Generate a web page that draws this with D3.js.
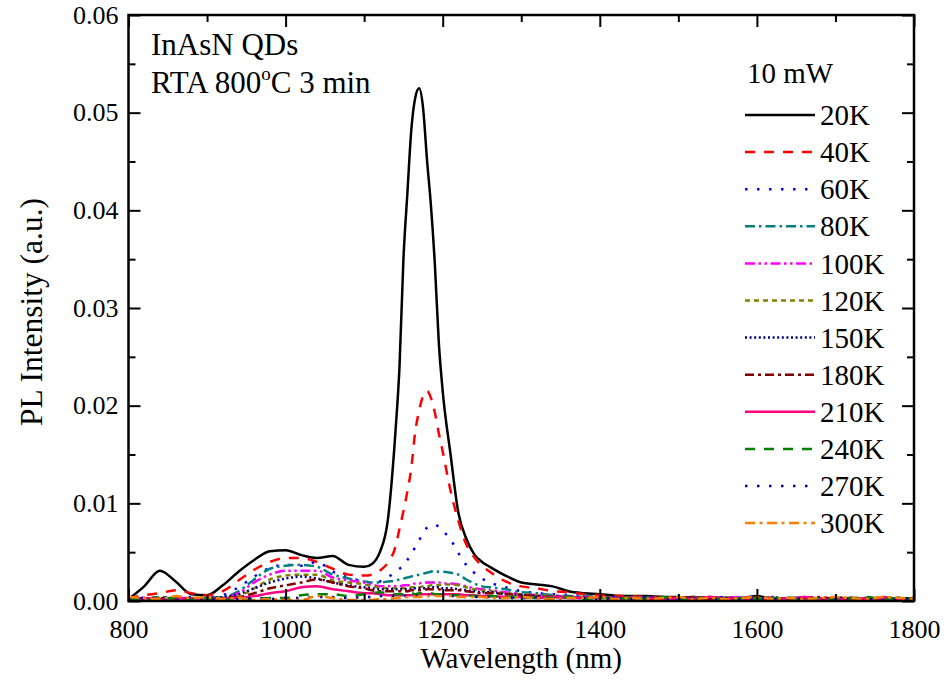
<!DOCTYPE html>
<html><head><meta charset="utf-8">
<script src="https://cdn.jsdelivr.net/npm/d3@7"></script>
<style>
body{margin:0;background:#fff;}
svg{display:block;}
text{font-family:"Liberation Serif","Times New Roman",serif;fill:#000;}
</style>
</head><body>
<svg id="chart" width="944" height="680"></svg>
<script>
// ---------------- DATA ----------------
const wavelength = [800,820,840,860,880,900,920,940,960,980,1000,1020,1040,1060,1080,1100,
  1110,1120,1130,1140,
  1145,1150,1155,1160,1165,1170,1175,1180,1185,1190,1195,1200,
  1210,1220,1230,1240,1250,1260,
  1280,1300,1320,1340,1360,1380,1400,1420,1440,1460,1480,1500,1520,1540,1560,1580,1600,1620,1640,1660,1680,1700,1720,1740,1760,1780,1800];

const s20K = [0.0002,0.0015,0.0031,0.0020,0.0007,0.0006,0.0016,0.0030,0.0042,0.0051,0.0052,0.0047,0.0044,0.0046,0.0037,0.0035,
  0.0038,0.0050,0.0082,0.0175,
  0.0240,0.0350,0.0417,0.0482,0.0515,0.0525,0.0505,0.0452,0.0405,0.0345,0.0265,0.0215,
  0.0150,0.0090,0.0064,0.0048,0.0040,0.0035,
  0.0026,0.0019,0.0017,0.0015,0.0010,0.0008,0.0007,0.00055,0.0005,0.0005,0.0004,0.0004,0.0003,0.0004,0.0003,0.0003,0.0005,0.0002,0.0003,0.0003,0.0002,0.0003,0.0002,0.0003,0.0002,0.0003,0.0002];

const s40K = [0.0003,0.0006,0.0008,0.0011,0.0008,0.0006,0.0010,0.0021,0.0032,0.0040,0.0044,0.0044,0.0040,0.0033,0.0027,0.0026,
  0.0027,0.0031,0.0039,0.0056,
  0.0074,0.0092,0.0112,0.0136,0.0173,0.0195,0.0210,0.0215,0.0208,0.0193,0.0172,0.0153,
  0.0113,0.0082,0.0058,0.0045,0.0036,0.0030,
  0.0020,0.0015,0.0013,0.0010,0.0009,0.0007,0.0006,0.0005,0.0005,0.0004,0.0004,0.0003,0.0004,0.0003,0.0003,0.0004,0.0003,0.0003,0.0002,0.0003,0.0003,0.0002,0.0003,0.0002,0.0003,0.0002,0.0003];

const s60K = [0.0002,0.0003,0.0004,0.0003,0.0004,0.0003,0.0006,0.0014,0.0025,0.0034,0.0037,0.0036,0.0040,0.0030,0.0024,0.0020,
  0.0019,0.0020,0.0024,0.0030,
  0.0033,0.0036,0.0042,0.0048,0.0055,0.0062,0.0070,0.0075,0.0077,0.0078,0.0076,0.0072,
  0.0063,0.0049,0.0037,0.0029,0.0023,0.0019,
  0.0014,0.0010,0.0008,0.0007,0.0006,0.0005,0.0004,0.0004,0.0003,0.0004,0.0003,0.0003,0.0002,0.0003,0.0004,0.0002,0.0003,0.0003,0.0002,0.0004,0.0002,0.0003,0.0003,0.0002,0.0003,0.0002,0.0003];

const s80K = [0.0003,0.0002,0.0004,0.0003,0.0002,0.0003,0.0004,0.0010,0.0022,0.0033,0.0036,0.0037,0.0035,0.0027,0.0023,0.0020,
  0.0019,0.0019,0.0020,0.0021,
  0.0022,0.0023,0.0024,0.0025,0.0026,0.0027,0.0028,0.0029,0.0030,0.0031,0.0030,0.0030,
  0.0029,0.0027,0.0022,0.0018,0.0015,0.0014,
  0.0012,0.0009,0.0008,0.0006,0.0005,0.0005,0.0004,0.0003,0.0004,0.0003,0.0003,0.0002,0.0004,0.0003,0.0002,0.0003,0.0003,0.0002,0.0003,0.0003,0.0002,0.0003,0.0002,0.0003,0.0002,0.0003,0.0002];

const s100K = [0.0002,0.0003,0.0002,0.0003,0.0003,0.0002,0.0003,0.0008,0.0019,0.0027,0.0031,0.0031,0.0031,0.0024,0.0021,0.0019,
  0.0017,0.0015,0.0015,0.0015,
  0.0015,0.0016,0.0016,0.0017,0.0018,0.0018,0.0019,0.0019,0.0019,0.0019,0.0019,0.0018,
  0.0018,0.0017,0.0015,0.0013,0.0012,0.0011,
  0.0009,0.0007,0.0006,0.0005,0.0005,0.0004,0.0004,0.0003,0.0003,0.0004,0.0002,0.0003,0.0003,0.0002,0.0003,0.0004,0.0002,0.0003,0.0002,0.0003,0.0003,0.0002,0.0003,0.0002,0.0004,0.0002,0.0003];

const s120K = [0.0003,0.0002,0.0003,0.0002,0.0003,0.0002,0.0003,0.0005,0.0013,0.0022,0.0026,0.0027,0.0027,0.0021,0.0019,0.0017,
  0.0015,0.0014,0.0013,0.0013,
  0.0013,0.0013,0.0013,0.0014,0.0014,0.0014,0.0015,0.0015,0.0016,0.0016,0.0016,0.0017,
  0.0017,0.0016,0.0014,0.0012,0.0011,0.0010,
  0.0008,0.0007,0.0006,0.0005,0.0004,0.0004,0.0003,0.0003,0.0004,0.0002,0.0003,0.0003,0.0002,0.0004,0.0003,0.0002,0.0003,0.0002,0.0003,0.0003,0.0002,0.0004,0.0002,0.0003,0.0003,0.0002,0.0003];

const s150K = [0.0002,0.0003,0.0002,0.0003,0.0002,0.0003,0.0004,0.0007,0.0013,0.0019,0.0023,0.0025,0.0023,0.0019,0.0016,0.0014,
  0.0013,0.0012,0.0012,0.0012,
  0.0012,0.0012,0.0012,0.0012,0.0013,0.0013,0.0013,0.0013,0.0014,0.0014,0.0014,0.0013,
  0.0013,0.0012,0.0011,0.0010,0.0009,0.0009,
  0.0007,0.0006,0.0005,0.0004,0.0004,0.0003,0.0003,0.0003,0.0002,0.0003,0.0004,0.0002,0.0003,0.0002,0.0003,0.0003,0.0002,0.0004,0.0002,0.0003,0.0002,0.0003,0.0003,0.0002,0.0003,0.0002,0.0003];

const s180K = [0.0002,0.0002,0.0003,0.0002,0.0002,0.0002,0.0003,0.0004,0.0008,0.0013,0.0016,0.0019,0.0022,0.0019,0.0015,0.0013,
  0.0011,0.0010,0.0010,0.0010,
  0.0010,0.0010,0.0010,0.0011,0.0011,0.0011,0.0011,0.0012,0.0012,0.0012,0.0012,0.0011,
  0.0011,0.0011,0.0010,0.0009,0.0008,0.0008,
  0.0007,0.0006,0.0005,0.0004,0.0004,0.0003,0.0003,0.0003,0.0003,0.0002,0.0003,0.0003,0.0004,0.0002,0.0003,0.0002,0.0003,0.0003,0.0002,0.0003,0.0004,0.0002,0.0003,0.0002,0.0003,0.0003,0.0002];

const s210K = [0.0002,0.0003,0.0001,0.0003,0.0002,0.0001,0.0002,0.0003,0.0005,0.0008,0.0010,0.0014,0.0015,0.0012,0.0010,0.0008,
  0.0008,0.0007,0.0006,0.0006,
  0.0006,0.0006,0.0006,0.0006,0.0007,0.0007,0.0007,0.0007,0.0007,0.0007,0.0007,0.0007,
  0.0007,0.0007,0.0006,0.0006,0.0005,0.0005,
  0.0004,0.0004,0.0003,0.0004,0.0003,0.0003,0.0004,0.0002,0.0003,0.0003,0.0001,0.0003,0.0002,0.0004,0.0002,0.0003,0.0001,0.0003,0.0002,0.0004,0.0002,0.0001,0.0003,0.0002,0.0003,0.0002,0.0001];

const s240K = [0.0003,0.0001,0.0002,0.0003,0.0001,0.0002,0.0001,0.0002,0.0002,0.0003,0.0003,0.0006,0.0007,0.0007,0.0005,0.0007,
  0.0008,0.0009,0.0008,0.0007,
  0.0007,0.0007,0.0008,0.0008,0.0007,0.0008,0.0008,0.0008,0.0008,0.0007,0.0007,0.0007,
  0.0006,0.0006,0.0006,0.0005,0.0005,0.0005,
  0.0004,0.0004,0.0003,0.0003,0.0004,0.0002,0.0003,0.0003,0.0002,0.0003,0.0004,0.0002,0.0002,0.0003,0.0001,0.0003,0.0002,0.0003,0.0002,0.0001,0.0003,0.0002,0.0003,0.0004,0.0002,0.0003,0.0002];

const s270K = [0.0001,0.0003,0.0002,0.0001,0.0003,0.0002,0.0001,0.0002,0.0003,0.0002,0.0003,0.0003,0.0004,0.0004,0.0003,0.0004,
  0.0004,0.0005,0.0005,0.0005,
  0.0005,0.0005,0.0006,0.0006,0.0005,0.0006,0.0006,0.0006,0.0006,0.0005,0.0006,0.0005,
  0.0005,0.0005,0.0004,0.0004,0.0004,0.0004,
  0.0003,0.0003,0.0004,0.0002,0.0003,0.0003,0.0002,0.0003,0.0002,0.0004,0.0001,0.0002,0.0003,0.0002,0.0003,0.0001,0.0003,0.0002,0.0002,0.0003,0.0001,0.0002,0.0003,0.0002,0.0001,0.0002,0.0003];

const s300K = [0.0004,0.0003,0.0002,0.0005,0.0003,0.0004,0.0002,0.0003,0.0001,0.0002,0.0001,0.0001,0.0005,0.0003,0.0001,0.0001,
  0.0001,0.0002,0.0002,0.0003,
  0.0003,0.0003,0.0004,0.0004,0.0004,0.0004,0.0005,0.0005,0.0005,0.0005,0.0005,0.0005,
  0.0005,0.0004,0.0004,0.0004,0.0004,0.0003,
  0.0003,0.0004,0.0003,0.0002,0.0003,0.0003,0.0004,0.0002,0.0003,0.0002,0.0003,0.0004,0.0002,0.0003,0.0002,0.0003,0.0004,0.0002,0.0003,0.0002,0.0003,0.0004,0.0003,0.0002,0.0004,0.0003,0.0002];

const seriesLabels = ["20K","40K","60K","80K","100K","120K","150K","180K","210K","240K","270K","300K"];
const seriesValues = [s20K,s40K,s60K,s80K,s100K,s120K,s150K,s180K,s210K,s240K,s270K,s300K];
const xTickValues = [800,1000,1200,1400,1600,1800];
const yTickValues = [0,0.01,0.02,0.03,0.04,0.05,0.06];

// ---------------- STYLE ----------------
const styles = [
  {color:"#000000", dash:null},
  {color:"#FF0000", dash:"10,9"},
  {color:"#0000FF", dash:"2.5,9.5"},
  {color:"#008080", dash:"10,4,2.5,4"},
  {color:"#FF00FF", dash:"10,3.5,2.5,3.5,2.5,3.5"},
  {color:"#808000", dash:"5,4"},
  {color:"#000080", dash:"2,2.6"},
  {color:"#800000", dash:"9,4,3,4"},
  {color:"#FF0080", dash:null},
  {color:"#008000", dash:"10,9"},
  {color:"#0000A0", dash:"2.5,9.5"},
  {color:"#FF8000", dash:"10,4.5,3,4.5"}
];

const svg = d3.select("#chart");
const L = 128.5, R = 914, T = 15, B = 601;
const x = d3.scaleLinear().domain([800,1800]).range([L,R]);
const y = d3.scaleLinear().domain([0,0.06]).range([B,T]);

svg.append("defs").append("clipPath").attr("id","clip")
  .append("rect").attr("x",L).attr("y",T).attr("width",R-L).attr("height",B-T);

const line = d3.line().x((d,i)=>x(wavelength[i])).y(d=>y(d)).curve(d3.curveMonotoneX);

const plot = svg.append("g").attr("clip-path","url(#clip)");
seriesValues.forEach((vals,k)=>{
  plot.append("path").datum(vals)
    .attr("d",line)
    .attr("fill","none")
    .attr("stroke",styles[k].color)
    .attr("stroke-width",2.5)
    .attr("stroke-dasharray",styles[k].dash)
    .attr("stroke-linejoin","round");
});

// axes
const minorX = d3.range(900,1800,200);
const minorY = [0.005,0.015,0.025,0.035,0.045,0.055];
function styleAxis(g){
  g.select(".domain").remove();
  g.selectAll(".tick line").attr("stroke","#000").attr("stroke-width",2);
  g.selectAll("text").attr("font-family","Liberation Serif").attr("font-size",26).attr("fill","#000");
}
svg.append("g").attr("transform",`translate(0,${B})`)
  .call(d3.axisBottom(x).tickValues(xTickValues).tickSize(-12).tickPadding(19).tickFormat(d3.format("d")))
  .call(styleAxis);
svg.append("g").attr("transform",`translate(0,${B})`)
  .call(d3.axisBottom(x).tickValues(minorX).tickSize(-7).tickFormat(""))
  .call(styleAxis);
svg.append("g").attr("transform",`translate(0,${T})`)
  .call(d3.axisTop(x).tickValues(xTickValues).tickSize(-12).tickFormat(""))
  .call(styleAxis);
svg.append("g").attr("transform",`translate(0,${T})`)
  .call(d3.axisTop(x).tickValues(minorX).tickSize(-7).tickFormat(""))
  .call(styleAxis);
svg.append("g").attr("transform",`translate(${L},0)`)
  .call(d3.axisLeft(y).tickValues(yTickValues).tickSize(-12).tickPadding(10).tickFormat(d3.format(".2f")))
  .call(styleAxis);
svg.append("g").attr("transform",`translate(${L},0)`)
  .call(d3.axisLeft(y).tickValues(minorY).tickSize(-7).tickFormat(""))
  .call(styleAxis);
svg.append("g").attr("transform",`translate(${R},0)`)
  .call(d3.axisRight(y).tickValues(yTickValues).tickSize(-12).tickFormat(""))
  .call(styleAxis);
svg.append("g").attr("transform",`translate(${R},0)`)
  .call(d3.axisRight(y).tickValues(minorY).tickSize(-7).tickFormat(""))
  .call(styleAxis);

svg.append("rect").attr("x",L).attr("y",T).attr("width",R-L).attr("height",B-T)
  .attr("fill","none").attr("stroke","#000").attr("stroke-width",2.5);

// axis titles
svg.append("text").attr("x",(L+R)/2).attr("y",668).attr("text-anchor","middle")
  .attr("font-size",29).text("Wavelength (nm)");
svg.append("text").attr("transform",`translate(42,${(T+B)/2 + 4}) rotate(-90)`)
  .attr("text-anchor","middle").attr("font-size",31.5).text("PL Intensity (a.u.)");

// annotations
svg.append("text").attr("x",151).attr("y",55).attr("font-size",31).text("InAsN QDs");
const t2 = svg.append("text").attr("x",151).attr("y",93).attr("font-size",31);
t2.append("tspan").text("RTA 800");
t2.append("tspan").attr("font-size",19).attr("dy",-13).text("o");
t2.append("tspan").attr("dy",13).text("C 3 min");

// legend
svg.append("text").attr("x",747).attr("y",83).attr("font-size",29).text("10 mW");
const leg = svg.append("g");
seriesLabels.forEach((lab,k)=>{
  const yy = 115 + k*37.1;
  leg.append("line").attr("x1",745).attr("x2",815).attr("y1",yy).attr("y2",yy)
    .attr("stroke",styles[k].color).attr("stroke-width",2.5)
    .attr("stroke-dasharray",styles[k].dash);
  leg.append("text").attr("x",820).attr("y",yy).attr("dy","0.35em")
    .attr("font-size",29).text(lab);
});
</script>
</body></html>
